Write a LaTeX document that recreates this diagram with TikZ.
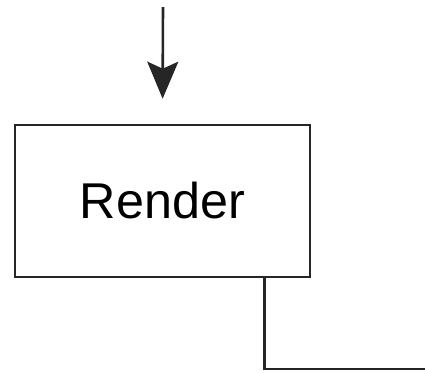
\documentclass[tikz,border=0pt]{standalone}
\usepackage{fontspec}
\setmainfont{Liberation Sans}
\usetikzlibrary{arrows.meta}
\begin{document}
\begin{tikzpicture}[x=1bp,y=-1bp,
  wire/.style={line width=2.6bp,draw=black!85},
  stagebox/.style={wire,rectangle,minimum width=295bp,minimum height=152bp,
    inner sep=0pt,font=\fontsize{50.5}{60}\selectfont},
  headtip/.style={-{Stealth[length=37bp,width=31bp,inset=7bp]}}]
  \useasboundingbox (0,0) rectangle (425,373);
  \node[stagebox] (render) at (162.5,201) {Render};
  \coordinate (in) at (163,7);
  \coordinate (out) at (426,369);
  \draw[wire,headtip,shorten >=25bp] (in) -- (render.north);
  \draw[wire] ([xshift=-47bp]render.south east) |- (out);
\end{tikzpicture}
\end{document}
